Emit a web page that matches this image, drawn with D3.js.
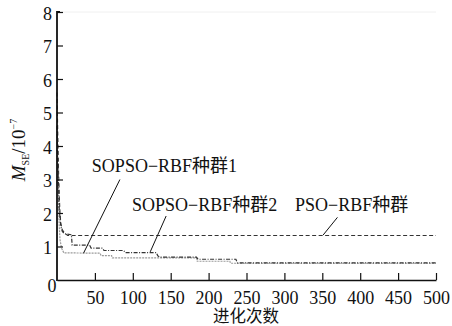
<!DOCTYPE html>
<html><head><meta charset="utf-8">
<script src="https://cdn.jsdelivr.net/npm/d3@7/dist/d3.min.js"></script>
<style>
html,body{margin:0;padding:0;background:#fff;}
svg text{font-family:"Liberation Serif","Times New Roman","Noto Sans CJK SC",serif !important;fill:#111;}
</style></head>
<body>
<svg id="chart" width="452" height="326"></svg>
<script>
// ---- data (iteration, MSE x1e-7) ----
const xTicks = [50,100,150,200,250,300,350,400,450,500];
const yTicks = [1,2,3,4,5,6,7,8];
const xTitle = "进化次数";

const psoIter = [0,1,2,3,4,5,7,10,14,500];
const psoVal  = [5.6,4.4,3.3,2.5,2.0,1.7,1.5,1.4,1.33,1.33];

const pop2Iter = [0,1,2,3,5,7,10,19,20,43,45,60,62,88,90,131,133,136,184,186,236,238,500];
const pop2Val  = [4.6,3.6,2.8,2.1,1.6,1.45,1.38,1.35,1.04,1.04,0.95,0.95,0.88,0.88,0.82,0.82,0.72,0.68,0.68,0.62,0.62,0.51,0.51];

const pop1Iter = [0,1,2,3,4,6,9,57,58,72,73,184,185,228,229,500];
const pop1Val  = [3.9,3.0,2.2,1.6,1.2,0.95,0.81,0.8,0.73,0.73,0.66,0.66,0.56,0.56,0.5,0.5];

const labels = ["SOPSO−RBF种群1","SOPSO−RBF种群2","PSO−RBF种群"];
const labelIter = [46,99,314];
const labelVal  = [3.23,2.07,2.05];
const leaderFromIter = [35,123,351];
const leaderFromVal  = [0.8,0.84,1.34];
const leaderToIter   = [83,144,370];
const leaderToVal    = [3.0,1.91,1.87];

// ---- layout ----
const svg = d3.select("#chart");
const x = d3.scaleLinear().domain([0,500]).range([57,436]);
const y = d3.scaleLinear().domain([0,8]).range([280,12]);

// faint top frame
svg.append("line").attr("x1",x(0)).attr("x2",x(500)).attr("y1",y(8)).attr("y2",y(8))
  .attr("stroke","#f0f0f0").attr("stroke-width",1);

// series
const line = d3.line().x(d=>x(d[0])).y(d=>y(d[1]));
const series = [
  {it:pop1Iter, v:pop1Val, color:"#9a9a9a", dash:"2,1", w:1.2},
  {it:pop2Iter, v:pop2Val, color:"#333", dash:"4,1.5,1,1.5", w:1.2},
  {it:psoIter,  v:psoVal,  color:"#333", dash:"4,2.5", w:1.1}
];
series.forEach(s=>{
  svg.append("path").datum(s.it.map((d,i)=>[d,s.v[i]]))
    .attr("d",line).attr("fill","none").attr("stroke",s.color)
    .attr("stroke-width",s.w).attr("stroke-dasharray",s.dash);
});

// axes
const xAxis = d3.axisBottom(x).tickValues(xTicks).tickSizeInner(-7).tickSizeOuter(0).tickPadding(11);
const gx = svg.append("g").attr("transform",`translate(0,${y(0)})`).call(xAxis);
gx.attr("font-family",null);
gx.select(".domain").attr("stroke","#111").attr("stroke-width",1.6);
gx.selectAll(".tick line").attr("stroke","#111").attr("stroke-width",1.2);
gx.selectAll(".tick text").style("font-size","18px").attr("fill","#111");

const yAxis = d3.axisLeft(y).tickValues(yTicks).tickSizeInner(-6).tickSizeOuter(0).tickPadding(5);
const gy = svg.append("g").attr("transform",`translate(${x(0)},0)`).call(yAxis);
gy.attr("font-family",null);
gy.select(".domain").attr("stroke","#111").attr("stroke-width",1.8)
  .attr("d",`M0,${y(0)+1}V${y(8)}H3`);
gy.selectAll(".tick line").attr("stroke","#111").attr("stroke-width",1.2);
gy.selectAll(".tick text").style("font-size","18px").attr("fill","#111").attr("dy","0.4em");

// origin label
svg.append("text").attr("x",x(0)-5).attr("y",y(0)+12).attr("text-anchor","middle")
  .style("font-size","18px").text("0");

// x title
svg.append("text").attr("x",246).attr("y",322).attr("text-anchor","middle")
  .style("font-size","16.5px").text(xTitle);

// y title
const yt = svg.append("text").attr("transform","translate(25,150) rotate(-90)")
  .attr("text-anchor","middle").style("font-size","19px");
yt.append("tspan").style("font-style","italic").text("M");
yt.append("tspan").attr("dy",4).style("font-size","10px").text("SE");
yt.append("tspan").attr("dy",-4).text("/10");
yt.append("tspan").attr("dy",-8).style("font-size","10px").text("−7");

// annotations
labels.forEach((t,i)=>{
  svg.append("line")
    .attr("x1",x(leaderFromIter[i])).attr("y1",y(leaderFromVal[i]))
    .attr("x2",x(leaderToIter[i])).attr("y2",y(leaderToVal[i]))
    .attr("stroke","#111").attr("stroke-width",1);
  svg.append("text").attr("x",x(labelIter[i])).attr("y",y(labelVal[i]))
    .style("font-size","18px").text(t);
});
</script>
</body></html>
